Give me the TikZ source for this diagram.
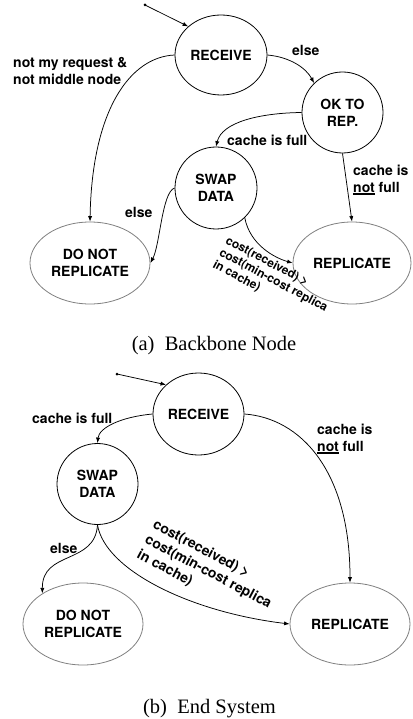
\documentclass[tikz,border=0pt]{standalone}
\usepackage{fontspec}
\setmainfont{Liberation Serif}
\newfontfamily\labfont{TeX Gyre Heros}
\usetikzlibrary{shapes.geometric,arrows.meta}
\newcommand{\myul}[1]{\setbox0=\hbox{#1}\rlap{\rule[-2.6pt]{\wd0}{1.5pt}}\box0\relax}
\tikzset{
  st/.style={draw, ellipse, inner sep=0pt, line width=0.8pt, align=center,
    font=\labfont\bfseries\fontsize{14}{16.7}\selectfont},
  gst/.style={st, draw=black!50},
  lbl/.style={inner sep=0pt, align=left,
    font=\labfont\bfseries\fontsize{14}{16.7}\selectfont},
  slbl/.style={inner sep=0pt, align=left, anchor=north west, rotate=-28,
    font=\labfont\bfseries\fontsize{12}{13.6}\selectfont},
  blbl/.style={inner sep=0pt, align=left, anchor=north west, rotate=-28,
    font=\labfont\bfseries\fontsize{14}{17}\selectfont},
  captext/.style={inner sep=0pt, anchor=base, font=\fontsize{20.5}{24}\selectfont},
  arr/.style={-{Latex[length=5.5pt,width=4.2pt]}, line width=0.75pt},
  startdot/.style={fill=black}
}
\begin{document}
\begin{tikzpicture}[x=1pt,y=-1pt]
\fill[white] (0,0) rectangle (412,719);
\useasboundingbox (0,0) rectangle (412,719);

% ---------- (a) Backbone Node ----------
\node[st, minimum width=92pt, minimum height=80pt] (rcva) at (221,55) {RECEIVE};
\node[st, minimum width=81pt, minimum height=81pt] (oka) at (342.5,112.5) {OK TO\\REP.};
\node[st, minimum width=82pt, minimum height=82pt] (swa) at (216,188) {SWAP\\DATA};
\node[gst, minimum width=120pt, minimum height=82pt] (dnra) at (90,263) {DO NOT\\REPLICATE};
\node[gst, minimum width=118pt, minimum height=82pt] (repa) at (352,263) {REPLICATE};

\coordinate (sa) at (145,5);
\fill[startdot] (sa) circle (1.5pt);
\draw[arr] (sa) -- (rcva.139);
\draw[arr] (rcva.west) .. controls (130,57) and (92,110) .. (dnra.north);
\draw[arr] (rcva.east) .. controls (290,57) and (306,68) .. (oka.134);
\draw[arr] (oka.west) .. controls (260,113) and (222,122) .. (swa.north);
\draw[arr] (oka.south) -- (repa.north);
\draw[arr] (swa.west) .. controls (162,192) and (160,245) .. (dnra.east);
\draw[arr] (swa.-46) .. controls (250,245) and (275,258) .. (repa.west);

\node[lbl, anchor=north west] (la1) at (13,57) {not my request \&\\not middle node};
\node[lbl, anchor=west] (la2) at (292,50) {else};
\node[lbl, anchor=west] (la3) at (227,140) {cache is full};
\node[lbl, anchor=north west] (la4) at (353,165) {cache is\\\myul{not} full};
\node[lbl, anchor=west] (la5) at (125,212) {else};
\node[slbl] (la6) at (229,235) {cost(received) >\\cost(min-cost replica\\in cache)};
\node[captext] (capa) at (214,350) {(a)\enspace Backbone Node};

% ---------- (b) End System ----------
\node[st, minimum width=91pt, minimum height=82pt] (rcvb) at (198.5,414) {RECEIVE};
\node[st, minimum width=81pt, minimum height=81pt] (swb) at (97.5,484) {SWAP\\DATA};
\node[gst, minimum width=120pt, minimum height=82pt] (dnrb) at (83,624) {DO NOT\\REPLICATE};
\node[gst, minimum width=120pt, minimum height=82pt] (repb) at (350,624) {REPLICATE};

\coordinate (sb) at (117,374);
\fill[startdot] (sb) circle (1.5pt);
\draw[arr] (sb) -- (rcvb.138);
\draw[arr] (rcvb.west) .. controls (120,417) and (99,428) .. (swb.north);
\draw[arr] (rcvb.east) .. controls (300,418) and (350,470) .. (repb.north);
\draw[arr] (swb.south) .. controls (95,565) and (42,550) .. (dnrb.143);
\draw[arr] (swb.south) .. controls (105,570) and (190,612) .. (repb.west);

\node[lbl, anchor=west] (lb1) at (32,418) {cache is full};
\node[lbl, anchor=north west] (lb2) at (317,424) {cache is\\\myul{not} full};
\node[lbl, anchor=west] (lb3) at (50,548) {else};
\node[blbl] (lb4) at (157,518) {cost(received) >\\cost(min-cost replica\\in cache)};
\node[captext] (capb) at (209.5,713) {(b)\enspace End System};
\end{tikzpicture}
\end{document}
